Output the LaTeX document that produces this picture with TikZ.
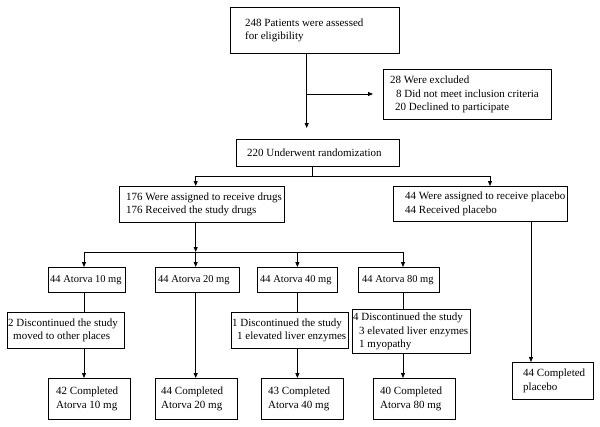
\documentclass[tikz,border=0pt]{standalone}
\usepackage{fontspec}
\setmainfont{Liberation Serif}
\usetikzlibrary{arrows.meta}
\newcommand\flowbox[8][]{%
  \node[box, minimum width=#5-#3, minimum height=#6-#4] (#2) at (#3,#4) {};
  \node[txt,#1] (#2t) at ([xshift=#7]#2.west) {#8};}
\begin{document}
\begin{tikzpicture}[x=1pt,y=-1pt,
  box/.style={draw, line width=0.8pt, anchor=north west, inner sep=0pt},
  txt/.style={anchor=west, align=left, inner sep=0pt, font=\fontsize{11}{13.5}\selectfont},
  small/.style={font=\fontsize{10.5}{13.5}\selectfont},
  ln/.style={line width=0.8pt},
  arr/.style={line width=0.8pt, -{Triangle[length=5pt,width=4pt]}}]
\useasboundingbox[fill=white] (0,0) rectangle (600,426);

\flowbox{top}{230}{7}{399}{53}{15}{248 Patients were assessed\\for eligibility}
\flowbox{excl}{383}{69}{551}{119}{7}{28 Were excluded\\\hspace*{6pt}8 Did not meet inclusion criteria\\\hspace*{5pt}20 Declined to participate}
\flowbox{rand}{236}{139}{399}{166}{11}{220 Underwent randomization}
\flowbox{drugs}{119}{186}{284}{222}{7}{176 Were assigned to receive drugs\\176 Received the study drugs}
\flowbox{plac}{393}{186}{567}{221}{12}{44 Were assigned to receive placebo\\44 Received placebo}

\flowbox[small]{a10}{48}{267}{125}{292}{2}{44 Atorva 10 mg}
\flowbox[small]{a20}{155}{267}{239}{292}{3}{44 Atorva 20 mg}
\flowbox[small]{a40}{257}{267}{337}{292}{3}{44 Atorva 40 mg}
\flowbox[small]{a80}{358}{267}{439}{292}{4}{44 Atorva 80 mg}

\flowbox{d10}{7}{312}{124}{348}{1}{2 Discontinued the study\\\hspace*{5pt}moved to other places}
\flowbox{d40}{231}{312}{348}{348}{1}{1 Discontinued the study\\\hspace*{5pt}1 elevated liver enzymes}
\flowbox{d80}{352}{309}{470}{353}{1}{4 Discontinued the study\\\hspace*{6pt}3 elevated liver enzymes\\\hspace*{6pt}1 myopathy}

\flowbox{c10}{48}{378}{130}{419}{8}{42 Completed\\Atorva 10 mg}
\flowbox{c20}{155}{378}{237}{419}{6}{44 Completed\\Atorva 20 mg}
\flowbox{c40}{261}{378}{343}{419}{7}{43 Completed\\Atorva 40 mg}
\flowbox{c80}{373}{378}{455}{419}{7}{40 Completed\\Atorva 80 mg}
\flowbox{cp}{512}{362}{593}{399}{11}{44 Completed\\placebo}

% top to randomization
\coordinate (t1) at (306.7,128);
\coordinate (b1) at (306.7,94);
\coordinate (e1) at (373,94);
\draw[arr] (top.south -| t1) -- (t1);
\draw[arr] (b1) -- (e1);
% randomization split
\coordinate (r1) at (312.7,176);
\coordinate (rl) at (195.7,176);
\coordinate (rr) at (490,176);
\draw[ln] (rand.south -| r1) -- (r1);
\draw[ln] (rl) -- (rr);
\draw[arr] (rl) -- (drugs.north -| rl);
\draw[arr] (rr) -- (plac.north -| rr);
% drugs split
\coordinate (s1) at (195.7,252);
\coordinate (sl) at (84,252);
\coordinate (sr) at (403,252);
\draw[arr] (drugs.south -| s1) -- (s1);
\draw[ln] (sl) -- (sr);
\draw[arr] (sl) -- (a10.north -| sl);
\draw[arr] (s1) -- (a20.north -| s1);
\draw[arr] (a40.north |- sl) -- (a40.north);
\draw[arr] (sr) -- (a80.north -| sr);
% to discontinued / completed
\draw[ln] (a10.south -| sl) -- (d10.north -| sl);
\draw[arr] (d10.south -| sl) -- (c10.north -| sl);
\draw[arr] (a20.south -| s1) -- (c20.north -| s1);
\draw[ln] (a40.south) -- (d40.north -| a40.south);
\draw[arr] (d40.south -| a40.south) -- (c40.north -| a40.south);
\draw[ln] (a80.south -| sr) -- (d80.north -| sr);
\draw[arr] (d80.south -| sr) -- (c80.north -| sr);
\coordinate (p1) at (531,0);
\draw[arr] (plac.south -| p1) -- (cp.north -| p1);
\end{tikzpicture}
\end{document}
